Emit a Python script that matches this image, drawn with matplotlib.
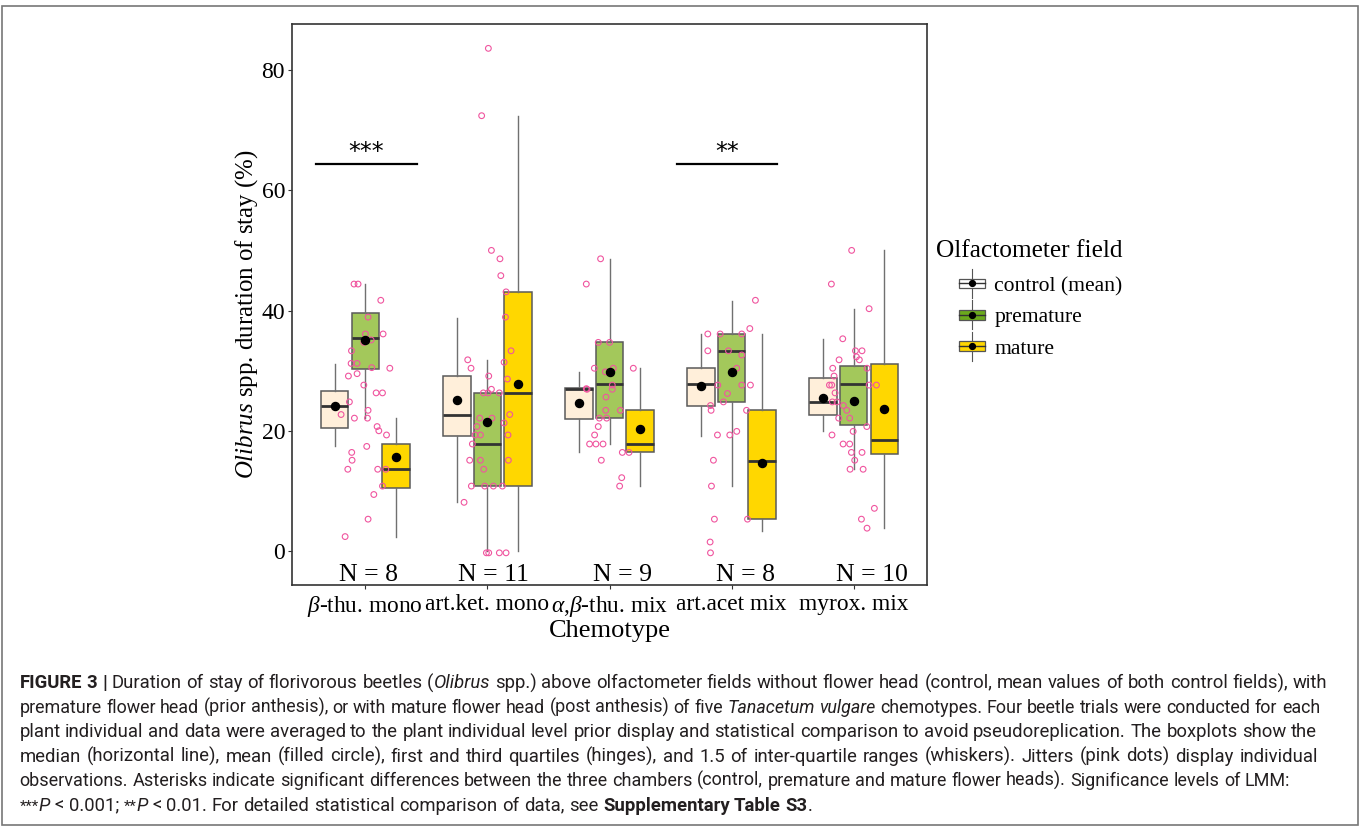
import matplotlib
matplotlib.use("Agg")
import matplotlib.pyplot as plt
from matplotlib import font_manager
from matplotlib.legend_handler import HandlerBase
from matplotlib.patches import Rectangle
from matplotlib.lines import Line2D

W, H = 1360, 831

chemotypes = [r"$\mathit{β}$-thu. mono", "art.ket. mono", r"$\mathit{α}$,$\mathit{β}$-thu. mix",
              "art.acet mix", "myrox. mix"]
n_labels = ["N = 8", "N = 11", "N = 9", "N = 8", "N = 10"]
n_label_pos = [1.03, 2.05, 3.11, 4.11, 5.15]
fields = ["control (mean)", "premature", "mature"]

# box statistics, one value per chemotype
control_low = [17.4, 8.1, 16.4, 19.2, 19.9]
control_q1 = [20.4, 19.2, 22.0, 24.1, 22.7]
control_med = [24.2, 22.7, 27.0, 27.7, 24.8]
control_q3 = [26.6, 29.1, 27.1, 30.4, 28.7]
control_high = [31.1, 38.8, 29.7, 36.1, 35.3]
control_mean = [24.2, 25.1, 24.6, 27.4, 25.4]

premature_low = [22.1, 0.0, 17.8, 10.8, 13.6]
premature_q1 = [30.2, 10.8, 22.1, 24.8, 21.0]
premature_med = [35.4, 17.8, 27.7, 33.3, 27.7]
premature_q3 = [39.6, 26.3, 34.7, 36.1, 30.8]
premature_high = [44.4, 31.8, 48.6, 41.6, 40.3]
premature_mean = [35.1, 21.5, 29.8, 29.8, 24.9]

mature_low = [2.4, 0.0, 10.8, 3.3, 3.9]
mature_q1 = [10.4, 10.8, 16.4, 5.3, 16.1]
mature_med = [13.6, 26.2, 17.8, 15.0, 18.5]
mature_q3 = [17.8, 43.1, 23.4, 23.4, 31.1]
mature_high = [22.1, 72.4, 30.4, 36.1, 50.1]
mature_mean = [15.7, 27.7, 20.3, 14.7, 23.6]

# jittered observations: horizontal offset from the chemotype centre, value
beta_mono_dx = [-0.092, -0.059, 0.127, 0.023, 0.001, 0.146, 0.048, -0.012, -0.113, -0.116, -0.067, 0.053,
                0.201, -0.067, -0.138, -0.012, 0.089, 0.141, -0.130, -0.198, -0.089, 0.018, 0.023, 0.097,
                0.111, 0.174, 0.012, -0.111, -0.108, -0.143, 0.102, 0.168, 0.141, 0.070, 0.023, -0.165]
beta_mono_val = [44.4, 44.4, 41.7, 38.9, 36.1, 36.1, 35.1, 34.7, 33.3, 31.2, 31.2, 30.5,
                 30.4, 29.5, 29.1, 27.6, 26.3, 26.3, 24.8, 22.7, 22.1, 22.1, 23.4, 20.7,
                 20.0, 19.3, 17.4, 16.4, 15.1, 13.6, 13.6, 13.6, 10.8, 9.4, 5.3, 2.4]

artket_mono_dx = [0.008, -0.047, 0.033, 0.103, 0.110, -0.161, -0.134, 0.153, 0.148, 0.194, 0.137, 0.011,
                  0.164, 0.033, -0.033, 0.005, 0.098, 0.183, -0.063, 0.038, 0.137, -0.085, -0.101, -0.057,
                  0.169, -0.123, -0.145, -0.057, 0.172, -0.030, -0.131, -0.022, 0.049, 0.123, -0.191,
                  -0.008, 0.011, 0.098, 0.153]
artket_mono_val = [83.6, 72.4, 50.0, 48.6, 45.8, 31.8, 30.4, 43.1, 38.9, 33.3, 31.4, 29.1,
                   28.6, 26.9, 26.3, 26.3, 26.3, 22.7, 22.1, 22.1, 21.3, 20.7, 19.3, 19.3,
                   19.3, 17.8, 15.1, 15.1, 15.1, 13.6, 10.8, 10.8, 10.8, 10.8, 8.1,
                   -0.3, -0.3, -0.3, -0.3]

ab_mix_dx = [-0.073, -0.190, -0.092, 0.001, -0.124, 0.031, 0.195, -0.034, -0.184, -0.190, 0.023, 0.023,
             -0.029, -0.031, 0.089, -0.083, -0.023, -0.092, -0.122, -0.163, -0.111, -0.053, 0.105, 0.160,
             -0.067, 0.100, 0.083]
ab_mix_val = [48.6, 44.4, 34.7, 34.7, 30.4, 30.4, 30.4, 29.8, 26.9, 27.0, 27.6, 26.9,
              25.6, 23.4, 23.4, 22.1, 22.1, 20.7, 19.3, 17.8, 17.8, 17.8, 16.4, 16.4,
              15.1, 12.2, 10.8]

artacet_mix_dx = [0.195, 0.149, -0.195, -0.094, 0.083, -0.195, -0.026, 0.083, 0.042, -0.113, 0.083, 0.154,
                  -0.034, -0.067, -0.173, -0.168, 0.122, 0.042, -0.116, -0.015, -0.149, -0.165, -0.141,
                  0.130, -0.176, -0.173]
artacet_mix_val = [41.7, 37.0, 36.1, 36.1, 36.1, 33.3, 33.3, 32.6, 30.4, 27.6, 27.6, 27.6,
                   26.2, 24.8, 24.2, 23.4, 23.4, 19.9, 19.3, 19.3, 15.1, 10.8, 5.3,
                   5.3, 1.5, -0.3]

myrox_mix_dx = [-0.017, -0.183, 0.126, -0.090, 0.014, 0.068, -0.120, 0.022, 0.046, -0.172, 0.109, -0.161,
                -0.199, -0.180, 0.126, 0.186, -0.153, -0.175, -0.137, -0.085, -0.057, -0.123, -0.033,
                0.107, -0.005, -0.178, -0.087, -0.033, -0.019, 0.068, 0.008, -0.030, 0.077, 0.169,
                0.063, 0.109]
myrox_mix_val = [50.0, 44.4, 40.3, 35.3, 33.3, 33.3, 31.8, 32.3, 31.8, 30.4, 30.4, 29.1,
                 27.6, 27.6, 27.6, 27.6, 26.3, 24.8, 24.8, 24.2, 23.4, 22.1, 22.1,
                 20.7, 19.9, 19.3, 17.8, 17.8, 16.4, 16.4, 15.1, 13.6, 13.6, 7.1,
                 5.3, 3.8]

sig_labels = ["***", "**"]
sig_from = [0.60, 3.55]
sig_to = [1.42, 4.37]
sig_y = [64.3, 64.3]

box_fill = ["#FFEFDA", "#A3C85B", "#FFD700"]
key_fill = ["#FFFFFF", "#6BAA1C", "#FFD700"]
jitter_color = "#F0559F"

plt.rcParams["mathtext.fontset"] = "custom"
plt.rcParams["mathtext.rm"] = "Liberation Serif"
plt.rcParams["mathtext.it"] = "Liberation Serif:italic"
plt.rcParams["mathtext.bf"] = "Liberation Serif:bold"
plt.rcParams["font.family"] = "Liberation Serif"

fig = plt.figure(figsize=(W / 100, H / 100), dpi=100)
ax = fig.add_axes([292 / W, 1 - 585 / H, 635 / W, 561 / H])

offsets = [-0.25, 0.0, 0.25]
lows = [control_low, premature_low, mature_low]
q1s = [control_q1, premature_q1, mature_q1]
meds = [control_med, premature_med, mature_med]
q3s = [control_q3, premature_q3, mature_q3]
highs = [control_high, premature_high, mature_high]
means = [control_mean, premature_mean, mature_mean]

for k in range(len(fields)):
    stats = []
    for i in range(len(chemotypes)):
        stats.append(dict(whislo=lows[k][i], q1=q1s[k][i], med=meds[k][i],
                          q3=q3s[k][i], whishi=highs[k][i], fliers=[]))
    pos = [i + 1 + offsets[k] for i in range(len(chemotypes))]
    ax.bxp(stats, positions=pos, widths=0.225, patch_artist=True, showcaps=False,
           showfliers=False, manage_ticks=False, zorder=2,
           boxprops=dict(facecolor=box_fill[k], edgecolor="#5a5a5a", linewidth=1.1),
           medianprops=dict(color="#333333", linewidth=2.0),
           whiskerprops=dict(color="#707070", linewidth=1.0))
    ax.plot(pos, means[k], "o", color="black", markersize=5.8, zorder=4)

jitter = [(beta_mono_dx, beta_mono_val), (artket_mono_dx, artket_mono_val),
          (ab_mix_dx, ab_mix_val), (artacet_mix_dx, artacet_mix_val),
          (myrox_mix_dx, myrox_mix_val)]
for i, (dx, vals) in enumerate(jitter):
    ax.scatter([i + 1 + d for d in dx], vals, s=17, facecolors="none",
               edgecolors=jitter_color, linewidths=0.8, zorder=3)

for lab, x0, x1, y in zip(sig_labels, sig_from, sig_to, sig_y):
    ax.plot([x0, x1], [y, y], color="black", lw=1.6, zorder=5)
    ax.text((x0 + x1) / 2, y + 0.1, lab, ha="center", va="bottom", fontsize=17,
            family="DejaVu Sans", zorder=5)

for lab, x in zip(n_labels, n_label_pos):
    ax.text(x, -4.0, lab, ha="center", va="center", fontsize=18.5)

ax.set_xlim(0.4, 5.6)
ax.set_ylim(-5.65, 87.65)
ax.set_yticks([0, 20, 40, 60, 80])
ax.set_xticks(range(1, 6))
ax.set_xticklabels(chemotypes)
ax.tick_params(axis="both", labelsize=17, length=3, width=0.8, color="#333333",
               labelcolor="black", pad=2)
ax.tick_params(axis="x", labelsize=16.8, pad=3.5)
for s in ax.spines.values():
    s.set_color("#333333")
    s.set_linewidth(1.2)

ax.set_xlabel("Chemotype", fontsize=19)
ax.xaxis.set_label_coords(0.5, -0.062)
ax.set_ylabel(r"$\mathit{Olibrus}$ spp. duration of stay (%)", fontsize=17.9)
ax.yaxis.set_label_coords(-0.051, 0.483)


class BoxKey(HandlerBase):
    def create_artists(self, legend, orig_handle, xdescent, ydescent, width, height,
                       fontsize, trans):
        fc = orig_handle.get_facecolor()
        cx = width / 2 - xdescent
        cy = height / 2 - ydescent
        bh = height * 0.7
        whisk = Line2D([cx, cx], [cy - 1.05 * height, cy + 1.05 * height], color="#555555",
                       lw=0.8, transform=trans)
        box = Rectangle((-xdescent, cy - bh / 2), width, bh, facecolor=fc,
                        edgecolor="#555555", lw=0.9, transform=trans)
        med = Line2D([-xdescent, width - xdescent], [cy, cy], color="#333333", lw=1.0,
                     transform=trans)
        dot = Line2D([cx], [cy], marker="o", color="black", markersize=4.2, transform=trans)
        return [whisk, box, med, dot]


handles = [Rectangle((0, 0), 1, 1, facecolor=c) for c in key_fill]
fig.legend(handles, fields, loc="upper left", bbox_to_anchor=(958.5 / W, 1 - 276.5 / H),
           frameon=False, prop=dict(family="Liberation Serif", size=15.6),
           handlelength=1.2, handleheight=0.6, handletextpad=0.45, labelspacing=0.55,
           borderpad=0, borderaxespad=0, handler_map={Rectangle: BoxKey()})
fig.text(936 / W, 1 - 257 / H, "Olfactometer field", fontsize=18.3, ha="left", va="baseline")

# outer frame of the figure panel
fig.patches.append(Rectangle((1.5 / W, 1 - 825 / H), 1356 / W, 819 / H,
                             transform=fig.transFigure, fill=False,
                             edgecolor="#777777", lw=1.2))

# caption
names = {f.name for f in font_manager.fontManager.ttflist}
cap_font = "Liberation Sans Narrow" if "Liberation Sans Narrow" in names else "Roboto"

caption = [
    [("FIGURE 3 | ", "bold"), ("Duration of stay of florivorous beetles (", "normal"),
     ("Olibrus", "italic"),
     (" spp.) above olfactometer fields without flower head (control, mean values of both control fields), with", "normal")],
    [("premature flower head (prior anthesis), or with mature flower head (post anthesis) of five ", "normal"),
     ("Tanacetum vulgare", "italic"),
     (" chemotypes. Four beetle trials were conducted for each", "normal")],
    [("plant individual and data were averaged to the plant individual level prior display and statistical comparison to avoid pseudoreplication. The boxplots show the", "normal")],
    [("median (horizontal line), mean (filled circle), first and third quartiles (hinges), and 1.5 of inter-quartile ranges (whiskers). Jitters (pink dots) display individual", "normal")],
    [("observations. Asterisks indicate significant differences between the three chambers (control, premature and mature flower heads). Significance levels of LMM:", "normal")],
    [("***", "sup"), ("P", "italic"), (" < 0.001; ", "normal"), ("**", "sup"), ("P", "italic"),
     (" < 0.01. For detailed statistical comparison of data, see ", "normal"),
     ("Supplementary Table S3", "bold"), (".", "normal")],
]
cap_base = [688.3, 712.8, 737.3, 761.7, 786.1, 810.6]
cap_right = [1327, 1320, 1317, 1318, 1289, None]

renderer = fig.canvas.get_renderer()


def seg_props(style, size):
    p = dict(family=cap_font, fontsize=size, color="#231F20", va="baseline", ha="left")
    if style == "bold":
        p["fontweight"] = "bold"
    elif style == "italic":
        p["fontstyle"] = "italic"
    elif style == "sup":
        p["fontsize"] = size * 0.8
    return p


def seg_width(txt, props):
    probe = fig.text(0, 0, txt + "l", **props)
    w1 = probe.get_window_extent(renderer).width
    probe.set_text("l")
    w2 = probe.get_window_extent(renderer).width
    probe.remove()
    return w1 - w2


def line_width(parts, size):
    return sum(seg_width(t, seg_props(s, size)) for t, s in parts)


x_start = 19.5
base_size = 10.0
ratios = sorted((r - x_start) / line_width(p, base_size)
                for p, r in zip(caption, cap_right) if r is not None)
cap_size = base_size * ratios[len(ratios) // 2]

for parts, yb, right in zip(caption, cap_base, cap_right):
    size = cap_size
    natural = line_width(parts, size)
    if right is not None and natural > right - x_start:
        size = size * (right - x_start) / natural
        natural = line_width(parts, size)
    n_space = sum(t.count(" ") for t, s in parts)
    extra = 0.0
    if right is not None and n_space:
        extra = min(1.5, max(0.0, (right - x_start - natural) / n_space))
    x = x_start
    for txt, style in parts:
        props = seg_props(style, size)
        words = txt.split(" ")
        for j, word in enumerate(words):
            if word:
                fig.text(x / W, 1 - yb / H, word, **props)
                x += seg_width(word, props)
            if j < len(words) - 1:
                x += seg_width(" ", props) + extra

fig.savefig("out.png", dpi=100)
